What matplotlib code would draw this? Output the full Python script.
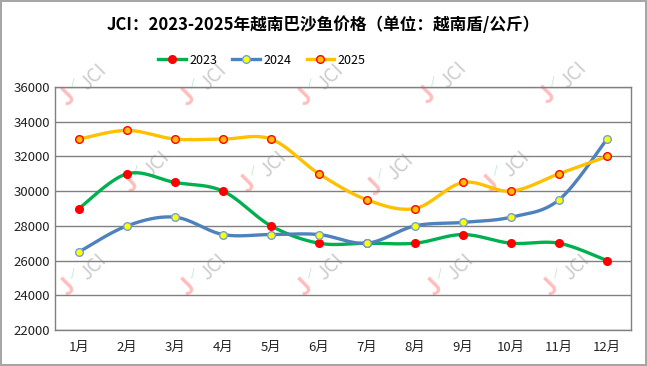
import numpy as np
import matplotlib.pyplot as plt

plt.rcParams['font.family'] = ['Noto Sans CJK SC', 'DejaVu Sans']

months = ['1月', '2月', '3月', '4月', '5月', '6月', '7月', '8月', '9月', '10月', '11月', '12月']
p2023 = [29000, 31000, 30500, 30000, 28000, 27000, 27000, 27000, 27500, 27000, 27000, 26000]
p2024 = [26500, 28000, 28500, 27500, 27500, 27500, 27000, 28000, 28200, 28500, 29500, 33000]
p2025 = [33000, 33500, 33000, 33000, 33000, 31000, 29500, 29000, 30500, 30000, 31000, 32000]


def smooth(x, y, n=30):
    """Excel-like smoothed line (Catmull-Rom as cubic Bezier)"""
    x = np.asarray(x, float)
    y = np.asarray(y, float)
    xs, ys = [], []
    for i in range(len(x) - 1):
        i0 = max(i - 1, 0)
        i3 = min(i + 2, len(x) - 1)
        p0 = np.array([x[i], y[i]])
        p3 = np.array([x[i + 1], y[i + 1]])
        c1 = p0 + (p3 - np.array([x[i0], y[i0]])) / 6
        c2 = p3 - (np.array([x[i3], y[i3]]) - p0) / 6
        t = np.linspace(0, 1, n)[:, None]
        pts = (1 - t) ** 3 * p0 + 3 * (1 - t) ** 2 * t * c1 + 3 * (1 - t) * t ** 2 * c2 + t ** 3 * p3
        xs.extend(pts[:, 0])
        ys.extend(pts[:, 1])
    return xs, ys


W, H = 647, 366
fig = plt.figure(figsize=(6.47, 3.66), dpi=100)
fig.patch.set_edgecolor('#a6a6a6')
fig.patch.set_linewidth(1.5)
ax = fig.add_axes([55 / W, 1 - 330 / H, 576 / W, 243 / H])

# watermark logos (pixel centres of the pink hook)
marks = [(67, 97), (187, 97), (304, 97), (427, 95), (547, 95),
         (130, 184), (247, 184), (374, 187), (490, 184),
         (67, 287), (187, 287), (304, 287), (434, 287), (550, 287)]
for mx, my in marks:
    fig.text(mx / W, 1 - my / H, 'J', rotation=45, fontsize=17, fontweight='bold',
             color='#ffbdbd', ha='center', va='center', zorder=-1)
    fig.text((mx + 6) / W, 1 - (my - 14) / H, '/', rotation=0, fontsize=7, fontweight='bold',
             color='#c6ecd3', ha='center', va='center', zorder=-1)
    fig.text((mx + 26) / W, 1 - (my - 20) / H, 'JCI', rotation=45, fontsize=14,
             color='#cdcdcd', ha='center', va='center', zorder=-1)

series = [
    ('2023', p2023, '#00b050', 'red', 'red'),
    ('2024', p2024, '#4f81bd', '#ffff00', '#6fa0dc'),
    ('2025', p2025, '#ffc000', '#ffc000', 'red'),
]
x = np.arange(len(months))
ax.patch.set_alpha(0)
handles = []
for name, vals, lc, mfc, mec in series:
    sx, sy = smooth(x, vals)
    ax.plot(sx, sy, color=lc, lw=2.4, zorder=3, solid_capstyle='round')
    ax.plot(x, vals, 'o', ms=5.5, mfc=mfc, mec=mec, mew=1, zorder=4)
    h, = ax.plot([], [], color=lc, lw=2.4, marker='o', ms=5.5, mfc=mfc, mec=mec, mew=1)
    handles.append(h)

ax.set_xlim(-0.5, 11.5)
ax.set_ylim(22000, 36000)
ax.set_yticks(np.arange(22000, 36001, 2000))
ax.set_xticks(x)
ax.set_xticklabels(months)
ax.tick_params(length=0, labelsize=9.5, colors='#222222')
ax.tick_params(axis='x', pad=8)
ax.grid(axis='y', color='#808080', lw=1)
ax.set_axisbelow(True)
for s in ax.spines.values():
    s.set_color('#808080')
    s.set_linewidth(1)

fig.text(0.5, 1 - 25 / H, 'JCI：2023-2025年越南巴沙鱼价格（单位：越南盾/公斤）', ha='center', va='center',
         fontsize=12, fontweight='bold')
fig.legend(handles, ['2023', '2024', '2025'], loc='center', bbox_to_anchor=(262 / W, 1 - 60 / H),
           ncol=3, frameon=False, fontsize=9, handlelength=2.2, handletextpad=0.3, columnspacing=1.2)

fig.savefig('out.png', dpi=100)
